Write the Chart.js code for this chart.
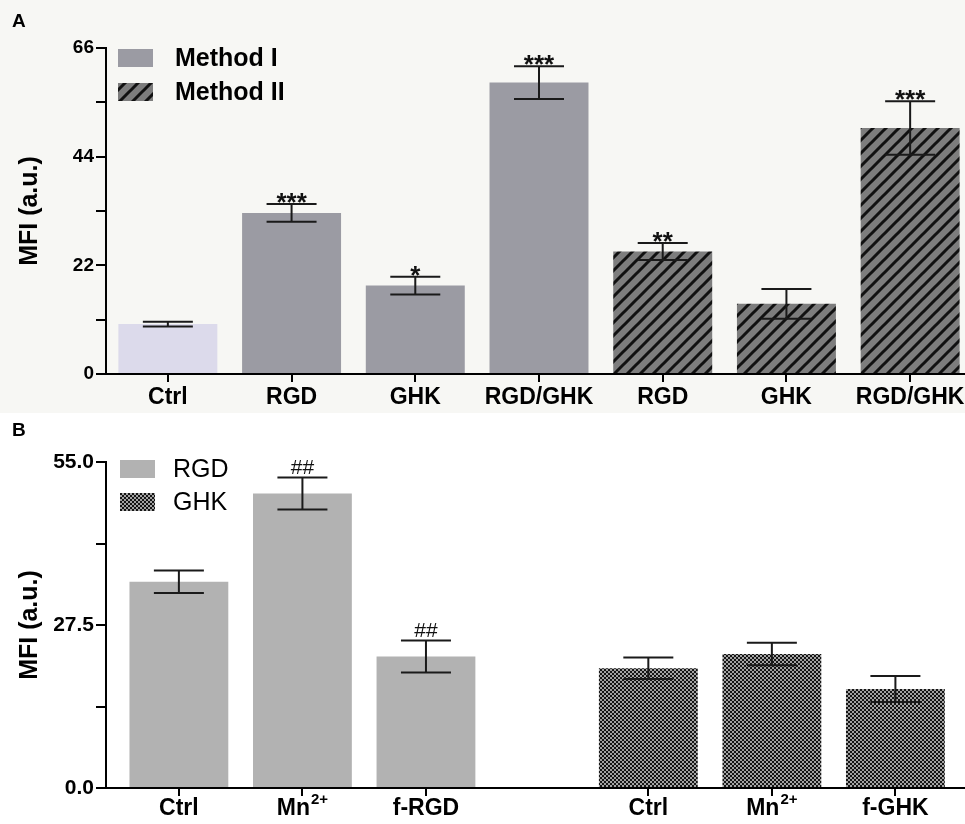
<!DOCTYPE html>
<html>
<head>
<meta charset="utf-8">
<script src="https://cdn.jsdelivr.net/npm/chart.js@4.4.1/dist/chart.umd.min.js"></script>
<style>
  html, body { margin: 0; padding: 0; background: #fff; overflow: hidden; width: 965px; height: 824px; }
  .panel { position: absolute; left: 0; width: 972px; }
  #panelA { top: 0; height: 413px; background: #f7f7f4; }
  #panelB { top: 413px; height: 411px; background: #fff; }
  .tag { position: absolute; left: 12px; font: bold 19px "Liberation Sans", Arial, sans-serif; color: #000; }
</style>
</head>
<body>
<div id="panelA" class="panel">
  <canvas id="chartA" width="972" height="413"></canvas>
  <div class="tag" style="top:10px">A</div>
</div>
<div id="panelB" class="panel">
  <canvas id="chartB" width="972" height="411"></canvas>
  <div class="tag" style="top:6px">B</div>
</div>
<script>
const FONT = '"Liberation Sans", Arial, sans-serif';

// panel A
const labelsA = ['Ctrl', 'RGD', 'GHK', 'RGD/GHK', 'RGD', 'GHK', 'RGD/GHK'];
const methodI = [10.1, 32.6, 17.9, 59.0, null, null, null];
const methodIErr = [0.5, 1.8, 1.8, 3.3, null, null, null];
const methodII = [null, null, null, null, 24.8, 14.2, 49.8];
const methodIIErr = [null, null, null, null, 1.7, 3.0, 5.4];
const starsA = ['', '***', '*', '***', '**', '', '***'];

// panel B
const labelsRGD = ['Ctrl', 'Mn^2+', 'f-RGD'];
const labelsGHK = ['Ctrl', 'Mn^2+', 'f-GHK'];
const rgd = [34.8, 49.7, 22.2];
const rgdErr = [1.9, 2.7, 2.7];
const ghk = [20.2, 22.6, 16.7];
const ghkErr = [1.8, 1.9, 2.2];
const hashRGD = ['', '##', '##'];
const hashGHK = ['', '', ''];

const CTRL_A = '#dcdaeb';
const GRAY_I = '#9b9ba3';
const GRAY_RGD = '#b2b2b2';
const GROUP_GAP = 3.8;

function stripes() {
  const c = document.createElement('canvas');
  c.width = c.height = 13;
  const g = c.getContext('2d');
  g.fillStyle = '#7d7d7d';
  g.fillRect(0, 0, 13, 13);
  g.strokeStyle = '#111';
  g.lineWidth = 3;
  g.beginPath();
  g.moveTo(-2, 15); g.lineTo(15, -2);
  g.moveTo(-2, 2); g.lineTo(2, -2);
  g.moveTo(11, 15); g.lineTo(15, 11);
  g.stroke();
  return g.createPattern(c, 'repeat');
}

function checks() {
  const c = document.createElement('canvas');
  c.width = c.height = 4;
  const g = c.getContext('2d');
  g.fillStyle = '#a3a3a3';
  g.fillRect(0, 0, 4, 4);
  g.fillStyle = '#151515';
  g.fillRect(0, 0, 2, 2);
  g.fillRect(2, 2, 2, 2);
  return g.createPattern(c, 'repeat');
}

const stripeFill = stripes();
const checkFill = checks();

// error bars + significance marks
const errorBars = {
  id: 'errorBars',
  afterDatasetsDraw(chart, args, opts) {
    const ctx = chart.ctx;
    const y = chart.scales.y;
    chart.data.datasets.forEach((ds, di) => {
      const meta = chart.getDatasetMeta(di);
      ds.data.forEach((d, i) => {
        const val = d !== null && typeof d === 'object' ? d.y : d;
        const e = ds.errors[i];
        if (val == null || e == null) return;
        const x = meta.data[i].x;
        const top = y.getPixelForValue(val + e);
        const bot = y.getPixelForValue(val - e);
        ctx.save();
        ctx.strokeStyle = '#1a1a1a';
        ctx.lineWidth = 2;
        ctx.beginPath();
        ctx.moveTo(x, top); ctx.lineTo(x, bot);
        ctx.moveTo(x - 25, top); ctx.lineTo(x + 25, top);
        ctx.moveTo(x - 25, bot); ctx.lineTo(x + 25, bot);
        ctx.stroke();
        const mark = ds.marks && ds.marks[i];
        if (mark) {
          ctx.fillStyle = '#111';
          ctx.font = opts.font;
          ctx.textAlign = 'center';
          ctx.textBaseline = 'alphabetic';
          ctx.fillText(mark, x, top + opts.dy);
        }
        ctx.restore();
      });
    });
  }
};

// legend drawn inside the plot area
const boxLegend = {
  id: 'boxLegend',
  afterDraw(chart, args, opts) {
    const { ctx, chartArea } = chart;
    ctx.save();
    chart.data.datasets.forEach((ds, i) => {
      const x = chartArea.left + opts.x;
      const y = chartArea.top + opts.y + i * opts.gap;
      ctx.fillStyle = ds.legendFill;
      ctx.fillRect(x, y, 35, 18);
      ctx.fillStyle = '#000';
      ctx.font = opts.font;
      ctx.textAlign = 'left';
      ctx.textBaseline = 'middle';
      ctx.fillText(ds.label, x + opts.textOffset, y + 10);
    });
    ctx.restore();
  }
};

// x labels of panel B, with superscripts
const supLabels = {
  id: 'supLabels',
  afterDraw(chart, args, opts) {
    const { ctx, chartArea } = chart;
    const x = chart.scales.x;
    ctx.save();
    ctx.fillStyle = '#000';
    ctx.textAlign = 'left';
    ctx.textBaseline = 'alphabetic';
    const baseY = chartArea.bottom + 27;
    opts.positions.forEach((p, i) => {
      const [base, sup] = opts.labels[i].split('^');
      ctx.font = 'bold 23px ' + FONT;
      const w1 = ctx.measureText(base).width;
      let w2 = 0;
      if (sup) {
        ctx.font = 'bold 15px ' + FONT;
        w2 = ctx.measureText(sup).width + 1;
      }
      const left = x.getPixelForValue(p) - (w1 + w2) / 2;
      ctx.font = 'bold 23px ' + FONT;
      ctx.fillText(base, left, baseY);
      if (sup) {
        ctx.font = 'bold 15px ' + FONT;
        ctx.fillText(sup, left + w1 + 1, baseY - 11);
      }
    });
    ctx.restore();
  }
};

function yAxis(max, step, labelEvery, fmt, size) {
  return {
    min: 0,
    max: max,
    ticks: {
      stepSize: step,
      autoSkip: false,
      color: '#000',
      padding: 2,
      font: { family: FONT, size: size, weight: 'bold' },
      callback: v => (Math.abs(v / labelEvery - Math.round(v / labelEvery)) < 1e-6 ? fmt(v) : '')
    },
    grid: { drawOnChartArea: false, tickLength: 10, color: '#000', lineWidth: 2 },
    border: { display: true, color: '#000', width: 2 },
    title: {
      display: true,
      text: 'MFI (a.u.)',
      color: '#000',
      font: { family: FONT, size: 25, weight: 'bold' },
      padding: { top: 15, bottom: 0 }
    },
    afterFit: s => { s.width = 106; }
  };
}

new Chart(document.getElementById('chartA'), {
  type: 'bar',
  data: {
    labels: labelsA,
    datasets: [
      {
        label: 'Method I',
        data: methodI,
        errors: methodIErr,
        marks: starsA,
        backgroundColor: labelsA.map((l, i) => (i === 0 ? CTRL_A : GRAY_I)),
        legendFill: GRAY_I
      },
      {
        label: 'Method II',
        data: methodII,
        errors: methodIIErr,
        marks: starsA,
        backgroundColor: stripeFill,
        legendFill: stripeFill
      }
    ]
  },
  options: {
    responsive: false,
    animation: false,
    layout: { padding: { top: 48, right: 0, bottom: 0, left: 0 } },
    datasets: { bar: { grouped: false, categoryPercentage: 1, barPercentage: 0.8 } },
    plugins: {
      legend: { display: false },
      tooltip: { enabled: false },
      errorBars: { font: 'bold 26px ' + FONT, dy: 7 },
      boxLegend: { x: 12, y: 1, gap: 34, textOffset: 57, font: 'bold 25px ' + FONT }
    },
    scales: {
      x: {
        offset: true,
        grid: { offset: false, drawOnChartArea: false, tickLength: 8, color: '#000', lineWidth: 2 },
        border: { display: true, color: '#000', width: 2 },
        ticks: { color: '#000', padding: 2, maxRotation: 0, autoSkip: false, font: { family: FONT, size: 23, weight: 'bold' } },
        afterFit: s => { s.height = 39; }
      },
      y: yAxis(66, 11, 22, v => String(v), 19)
    }
  },
  plugins: [errorBars, boxLegend]
});

const posRGD = rgd.map((v, i) => i);
const posGHK = ghk.map((v, i) => i + GROUP_GAP);

new Chart(document.getElementById('chartB'), {
  type: 'bar',
  data: {
    datasets: [
      {
        label: 'RGD',
        data: rgd.map((v, i) => ({ x: posRGD[i], y: v })),
        errors: rgdErr,
        marks: hashRGD,
        backgroundColor: GRAY_RGD,
        legendFill: GRAY_RGD
      },
      {
        label: 'GHK',
        data: ghk.map((v, i) => ({ x: posGHK[i], y: v })),
        errors: ghkErr,
        marks: hashGHK,
        backgroundColor: checkFill,
        legendFill: checkFill
      }
    ]
  },
  options: {
    responsive: false,
    animation: false,
    layout: { padding: { top: 49, right: 0, bottom: 0, left: 0 } },
    datasets: { bar: { grouped: false, categoryPercentage: 1, barPercentage: 0.8 } },
    plugins: {
      legend: { display: false },
      tooltip: { enabled: false },
      errorBars: { font: '21px ' + FONT, dy: -3 },
      boxLegend: { x: 14, y: -2, gap: 33, textOffset: 53, font: '25px ' + FONT },
      supLabels: { positions: posRGD.concat(posGHK), labels: labelsRGD.concat(labelsGHK) }
    },
    scales: {
      x: {
        type: 'linear',
        offset: false,
        min: -0.59,
        max: 6.42,
        afterBuildTicks: s => { s.ticks = posRGD.concat(posGHK).map(v => ({ value: v })); },
        ticks: { display: false },
        grid: { offset: false, drawOnChartArea: false, tickLength: 8, color: '#000', lineWidth: 2 },
        border: { display: true, color: '#000', width: 2 },
        afterFit: s => { s.height = 36; }
      },
      y: yAxis(55, 13.75, 27.5, v => v.toFixed(1), 21)
    }
  },
  plugins: [errorBars, boxLegend, supLabels]
});
</script>
</body>
</html>
